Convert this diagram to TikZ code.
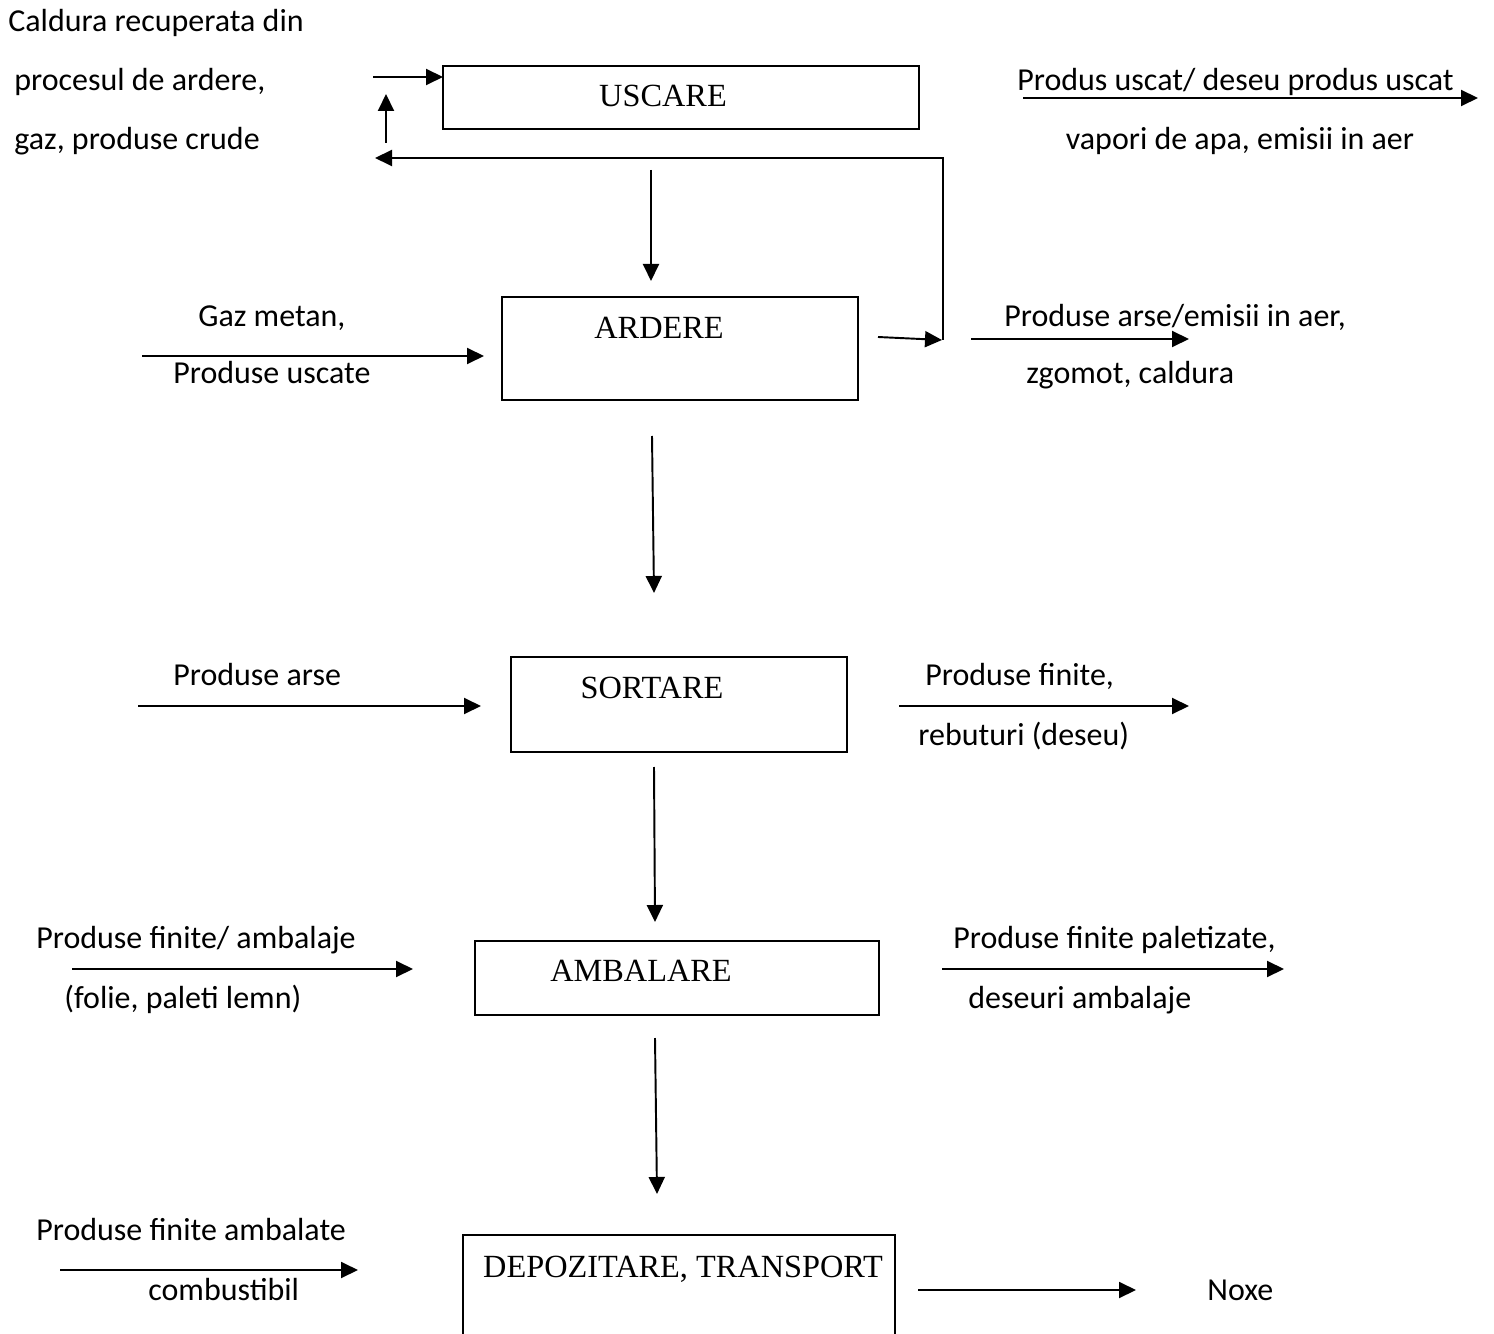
\documentclass[tikz,border=0pt]{standalone}
\usepackage{fontspec}
\setmainfont{Liberation Serif}
\newfontfamily\calibri{Carlito}
\usetikzlibrary{arrows.meta}

\tikzset{
  box/.style={draw, line width=1pt},
  boxtext/.style={font=\fontsize{18.4}{21}\selectfont, inner sep=0pt, anchor=base},
  sidetext/.style={font=\calibri\fontsize{18.2}{21}\selectfont, inner sep=0pt, anchor=base west},
  flow/.style={->, line width=1.1pt}
}

\begin{document}
\begin{tikzpicture}[x=0.02cm, y=-0.02cm, >={Triangle[length=0.34cm, width=0.32cm]}]
      \useasboundingbox (0,0) rectangle (1494,1334);

      % boxes
      \draw[box] (443,66) rectangle (919,129);
      \draw[box] (502,297) rectangle (858,400);
      \draw[box] (511,657) rectangle (847,752);
      \draw[box] (475,941) rectangle (879,1015);
      \draw[box] (463,1340) -- (463,1235) -- (895,1235) -- (895,1340);

      \node[boxtext] (uscare) at (663,107) {USCARE};
      \node[boxtext] (ardere) at (659,339) {ARDERE};
      \node[boxtext] (sortare) at (652,698) {SORTARE};
      \node[boxtext] (ambalare) at (641,981) {AMBALARE};
      \node[boxtext] (depozitare) at (683,1277) {DEPOZITARE, TRANSPORT};

      % uscare
      \node[sidetext] (caldura) at (8,32) {Caldura recuperata din};
      \node[sidetext] (procesul) at (14,91) {procesul de ardere,};
      \node[sidetext] (gaz) at (14,150) {gaz, produse crude};
      \node[sidetext] (uscat) at (1017,91) {Produs uscat/ deseu produs uscat};
      \node[sidetext, anchor=base] (vapori) at (1240,150) {vapori de apa, emisii in aer};

      \coordinate (usin1) at (373,77);
      \coordinate (usin2) at (443,77);
      \coordinate (up1) at (386,143);
      \coordinate (up2) at (386,94);
      \coordinate (ret1) at (943,158);
      \coordinate (ret2) at (375,158);
      \coordinate (retb) at (943,340);
      \coordinate (usout1) at (1023,98);
      \coordinate (usout2) at (1478,98);
      \draw[flow] (usin1) -- (usin2);
      \draw[flow] (up1) -- (up2);
      \draw[flow] (retb) -- (ret1) -- (ret2);
      \draw[flow] (usout1) -- (usout2);

      % ardere
      \coordinate (d11) at (651,170);
      \coordinate (d12) at (651,281);
      \draw[flow] (d11) -- (d12);

      \node[sidetext] (gazmetan) at (198,327) {Gaz metan,};
      \node[sidetext] (puscate) at (173,384) {Produse uscate};
      \node[sidetext] (parse) at (1004,327) {Produse arse/emisii in aer,};
      \node[sidetext] (zgomot) at (1026,384) {zgomot, caldura};

      \coordinate (arin1) at (142,356);
      \coordinate (arin2) at (484,356);
      \coordinate (arout1) at (878,337);
      \coordinate (arout2) at (942,340);
      \coordinate (arem1) at (971,339);
      \coordinate (arem2) at (1189,339);
      \draw[flow] (arin1) -- (arin2);
      \draw[flow] (arout1) -- (arout2);
      \draw[flow] (arem1) -- (arem2);

      % sortare
      \coordinate (d21) at (652,436);
      \coordinate (d22) at (654,593);
      \draw[flow] (d21) -- (d22);

      \node[sidetext] (parse2) at (173,685) {Produse arse};
      \node[sidetext] (pfinite) at (925,685) {Produse finite,};
      \node[sidetext] (rebuturi) at (918,745) {rebuturi (deseu)};

      \coordinate (soin1) at (138,706);
      \coordinate (soin2) at (481,706);
      \coordinate (soout1) at (899,706);
      \coordinate (soout2) at (1189,706);
      \draw[flow] (soin1) -- (soin2);
      \draw[flow] (soout1) -- (soout2);

      % ambalare
      \coordinate (d31) at (654,767);
      \coordinate (d32) at (655,922);
      \draw[flow] (d31) -- (d32);

      \node[sidetext] (pambalaje) at (36,948) {Produse finite/ ambalaje};
      \node[sidetext] (folie) at (64,1008) {(folie, paleti lemn)};
      \node[sidetext] (paletizate) at (953,948) {Produse finite paletizate,};
      \node[sidetext] (deseuri) at (968,1008) {deseuri ambalaje};

      \coordinate (amin1) at (72,969);
      \coordinate (amin2) at (413,969);
      \coordinate (amout1) at (942,969);
      \coordinate (amout2) at (1284,969);
      \draw[flow] (amin1) -- (amin2);
      \draw[flow] (amout1) -- (amout2);

      % depozitare, transport
      \coordinate (d41) at (655,1038);
      \coordinate (d42) at (657,1194);
      \draw[flow] (d41) -- (d42);

      \node[sidetext] (pambalate) at (36,1240) {Produse finite ambalate};
      \node[sidetext] (combustibil) at (148,1300) {combustibil};
      \node[sidetext] (noxe) at (1207,1300) {Noxe};

      \coordinate (dein1) at (60,1270);
      \coordinate (dein2) at (358,1270);
      \coordinate (deout1) at (918,1290);
      \coordinate (deout2) at (1136,1290);
      \draw[flow] (dein1) -- (dein2);
      \draw[flow] (deout1) -- (deout2);

\end{tikzpicture}
\end{document}
